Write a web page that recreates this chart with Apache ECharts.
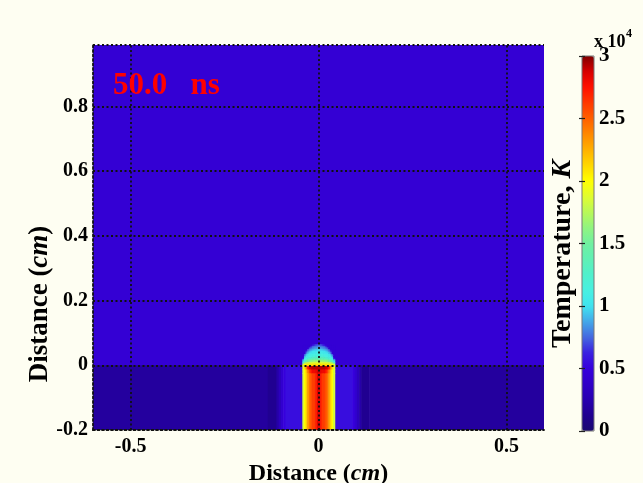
<!DOCTYPE html>
<html><head><meta charset="utf-8">
<script src="https://cdn.jsdelivr.net/npm/echarts@6/dist/echarts.min.js"></script>
<style>html,body{margin:0;padding:0;background:#fefef2;}#c{width:643px;height:483px;}</style>
</head><body><div id="c"></div>
<script>
// ---- tick labels ----
const xTicks = [-0.5, 0, 0.5];
const yTicks = [-0.2, 0, 0.2, 0.4, 0.6, 0.8];
const cbTicks = [0, 0.5, 1, 1.5, 2, 2.5, 3];
const timeLabel = '50.0   ns';

// ---- temperature field (units of 1e4 K), rows listed top -> bottom ----
const airX = [-0.6, 0.6];
const airY = [0, 0.99];
const airVals = [[0.45]];

const subX = [-0.6, -0.135, -0.112, -0.106, -0.1, -0.094, -0.088, -0.043, 0.043, 0.09, 0.096, 0.102, 0.108, 0.114, 0.135, 0.6];
const subY = [-0.2, 0];
const subVals = [[0.18, 0.13, 0.22, 0.32, 0.42, 0.5, 0.55, 0.55, 0.55, 0.5, 0.42, 0.32, 0.22, 0.13, 0.18]];

const colX = [-0.043, -0.0387, -0.0344, -0.0301, -0.0258, -0.0215, -0.0172, -0.0129, -0.0086, -0.0043, 0,
              0.0043, 0.0086, 0.0129, 0.0172, 0.0215, 0.0258, 0.0301, 0.0344, 0.0387, 0.043];
const colY = [-0.2, -0.025, -0.013, 0];
const colVals = [
  [1.9, 2.1, 2.4, 2.7, 2.85, 2.9, 2.92, 2.92, 2.92, 2.92, 2.92, 2.92, 2.92, 2.92, 2.9, 2.85, 2.7, 2.4, 2.1, 1.9],
  [1.85, 2.0, 2.2, 2.4, 2.6, 2.75, 2.8, 2.8, 2.82, 2.88, 2.88, 2.82, 2.8, 2.8, 2.75, 2.6, 2.4, 2.2, 2.0, 1.85],
  [1.85, 2.0, 2.15, 2.3, 2.45, 2.55, 2.6, 2.62, 2.7, 2.85, 2.85, 2.7, 2.62, 2.6, 2.55, 2.45, 2.3, 2.15, 2.0, 1.85]
];

const domeX = colX;
const domeY = [0, 0.005, 0.01, 0.015, 0.02, 0.025, 0.03, 0.035, 0.04, 0.045, 0.05, 0.055, 0.06, 0.065];
const domeVals = [
  [0.45, 0.45, 0.45, 0.45, 0.45, 0.45, 0.55, 0.64, 0.70, 0.72, 0.72, 0.70, 0.64, 0.55, 0.45, 0.45, 0.45, 0.45, 0.45, 0.45],
  [0.45, 0.45, 0.45, 0.45, 0.45, 0.65, 0.74, 0.77, 0.79, 0.80, 0.80, 0.79, 0.77, 0.74, 0.65, 0.45, 0.45, 0.45, 0.45, 0.45],
  [0.45, 0.45, 0.45, 0.45, 0.71, 0.78, 0.82, 0.85, 0.87, 0.88, 0.88, 0.87, 0.85, 0.82, 0.78, 0.71, 0.45, 0.45, 0.45, 0.45],
  [0.45, 0.45, 0.45, 0.72, 0.81, 0.87, 0.91, 0.94, 0.96, 0.97, 0.97, 0.96, 0.94, 0.91, 0.87, 0.81, 0.72, 0.45, 0.45, 0.45],
  [0.45, 0.45, 0.66, 0.82, 0.91, 0.97, 1.00, 1.01, 1.03, 1.03, 1.03, 1.03, 1.01, 1.00, 0.97, 0.91, 0.82, 0.66, 0.45, 0.45],
  [0.45, 0.45, 0.81, 0.94, 1.00, 1.03, 1.05, 1.07, 1.08, 1.08, 1.08, 1.08, 1.07, 1.05, 1.03, 1.00, 0.94, 0.81, 0.45, 0.45],
  [0.45, 0.73, 0.94, 1.03, 1.07, 1.09, 1.11, 1.12, 1.13, 1.13, 1.13, 1.13, 1.12, 1.11, 1.09, 1.07, 1.03, 0.94, 0.73, 0.45],
  [0.45, 0.88, 1.04, 1.09, 1.13, 1.15, 1.17, 1.19, 1.20, 1.20, 1.20, 1.20, 1.19, 1.17, 1.15, 1.13, 1.09, 1.04, 0.88, 0.45],
  [0.50, 1.03, 1.12, 1.17, 1.22, 1.27, 1.31, 1.33, 1.35, 1.35, 1.35, 1.35, 1.33, 1.31, 1.27, 1.22, 1.17, 1.12, 1.03, 0.50],
  [0.82, 1.12, 1.23, 1.34, 1.40, 1.44, 1.46, 1.48, 1.50, 1.50, 1.50, 1.50, 1.48, 1.46, 1.44, 1.40, 1.34, 1.23, 1.12, 0.82],
  [1.05, 1.31, 1.46, 1.54, 1.60, 1.64, 1.67, 1.68, 1.70, 1.70, 1.70, 1.70, 1.68, 1.67, 1.64, 1.60, 1.54, 1.46, 1.31, 1.05],
  [1.31, 1.63, 1.74, 1.80, 1.83, 1.85, 1.86, 1.87, 1.88, 1.88, 1.88, 1.88, 1.87, 1.86, 1.85, 1.83, 1.80, 1.74, 1.63, 1.31],
  [1.86, 2.00, 2.04, 2.06, 2.08, 2.09, 2.09, 2.10, 2.10, 2.10, 2.10, 2.10, 2.10, 2.09, 2.09, 2.08, 2.06, 2.04, 2.00, 1.86]
];

const cmapColors = ['#1a0870','#200090','#2800b0','#3000c8','#3600dc','#3a20e0','#4468e0','#44a8e8',
  '#40e4f0','#48f0e0','#50f0cc','#60f0b4','#70f0a0','#90f480','#b8f858','#e0fc30','#ffff00',
  '#ffd800','#ffb000','#ff8800','#ff6000','#ff3800','#ff1000','#d80000','#800000'];

function patch(xe, ye, vals) {
  const out = [];
  const nr = ye.length - 1;
  for (let r = 0; r < nr; r++) {
    const y1 = ye[nr - r], y0 = ye[nr - r - 1];
    for (let c = 0; c < xe.length - 1; c++) out.push([xe[c], xe[c + 1], y0, y1, vals[r][c]]);
  }
  return out;
}
const cells = [].concat(patch(airX, airY, airVals), patch(subX, subY, subVals),
  patch(colX, colY, colVals), patch(domeX, domeY, domeVals));

const SERIF = 'Liberation Serif';
const dotted = { color: '#111', type: [2, 2.5], width: 1.8 };
function tickFmt(list) {
  return v => { const m = list.find(t => Math.abs(t - v) < 1e-6); return m === undefined ? '' : String(m); };
}
function labelRich(size) {
  return {
    b: { fontFamily: SERIF, fontWeight: 'bold', fontSize: size, color: '#000', fill: '#000' },
    i: { fontFamily: SERIF, fontWeight: 'bold', fontStyle: 'italic', fontSize: size, color: '#000', fill: '#000' }
  };
}

const chart = echarts.init(document.getElementById('c'), null, { renderer: 'canvas' });
chart.setOption({
  backgroundColor: '#fefef2',
  animation: false,
  title: { text: timeLabel, left: 113, top: 70, padding: 0,
    textStyle: { color: '#ff0000', fontFamily: SERIF, fontWeight: 'bold', fontSize: 31 } },
  grid: [
    { left: 93, top: 45, width: 451, height: 385, show: false, outerBoundsMode: 'none', containLabel: false },
    { left: 582, top: 56, width: 12, height: 375, show: true, borderColor: '#777', borderWidth: 1,
      backgroundColor: 'transparent', z: 10, outerBoundsMode: 'none', containLabel: false }
  ],
  xAxis: [
    { gridIndex: 0, type: 'value', min: -0.6, max: 0.6, interval: 0.1, z: 6,
      axisLine: { show: true, onZero: false, lineStyle: dotted },
      axisTick: { show: false }, splitLine: { show: false },
      axisLabel: { formatter: tickFmt(xTicks), color: '#000', fontFamily: SERIF, fontWeight: 'bold', fontSize: 20, margin: 7 },
      name: '{b|Distance (}{i|cm}{b|)}', nameLocation: 'middle', nameGap: 30,
      nameTextStyle: { rich: labelRich(24) } },
    { gridIndex: 1, type: 'value', show: false, min: 0, max: 1 }
  ],
  yAxis: [
    { gridIndex: 0, type: 'value', min: -0.2, max: 0.99, interval: 0.2, z: 6,
      axisLine: { show: true, onZero: false, lineStyle: dotted },
      axisTick: { show: false },
      splitLine: { show: true, lineStyle: dotted },
      axisLabel: { formatter: tickFmt(yTicks), color: '#000', fontFamily: SERIF, fontWeight: 'bold', fontSize: 20, margin: 5 } },
    { gridIndex: 1, type: 'value', position: 'right', min: 0, max: 3, interval: 0.5, z: 10,
      axisLine: { show: false }, splitLine: { show: false },
      axisTick: { show: true, inside: true, length: 3, lineStyle: { color: '#222', width: 1.2 } },
      axisLabel: { formatter: tickFmt(cbTicks), color: '#000', fontFamily: SERIF, fontWeight: 'bold', fontSize: 21, margin: 5 } },
    { gridIndex: 1, type: 'value', position: 'left', min: 0, max: 3, interval: 0.5, z: 10,
      axisLine: { show: false }, splitLine: { show: false },
      axisTick: { show: true, inside: true, length: 3, lineStyle: { color: '#222', width: 1.2 } },
      axisLabel: { show: false } }
  ],
  visualMap: {
    type: 'continuous', seriesIndex: 0, dimension: 4, min: 0, max: 3,
    inRange: { color: cmapColors },
    orient: 'vertical', left: 582, top: 56, itemWidth: 12, itemHeight: 375,
    calculable: false, hoverLink: false, padding: 0, z: 4
  },
  graphic: [
    { type: 'text', x: 594, y: 33, z: 20, style: { text: 'x 10', font: 'bold 18px "Liberation Serif"', fill: '#000' } },
    { type: 'text', x: 626, y: 28, z: 20, style: { text: '4', font: 'bold 12px "Liberation Serif"', fill: '#000' } },
    { type: 'text', x: 40, y: 304, rotation: Math.PI / 2, z: 20,
      style: { text: '{b|Distance (}{i|cm}{b|)}', align: 'center', verticalAlign: 'middle',
        textAlign: 'center', textVerticalAlign: 'middle', rich: labelRich(27) } },
    { type: 'text', x: 563, y: 254, rotation: Math.PI / 2, z: 20,
      style: { text: '{b|Temperature, }{i|K}', align: 'center', verticalAlign: 'middle',
        textAlign: 'center', textVerticalAlign: 'middle', rich: labelRich(28) } }
  ],
  series: [
    { type: 'custom', coordinateSystem: 'cartesian2d', xAxisIndex: 0, yAxisIndex: 0, z: 1, clip: true, silent: true,
      dimensions: ['x0', 'x1', 'y0', 'y1', 'T'],
      encode: { x: [0, 1], y: [2, 3] },
      data: cells,
      renderItem: function (params, api) {
        const p0 = api.coord([api.value(0), api.value(3)]);
        const p1 = api.coord([api.value(1), api.value(2)]);
        return { type: 'rect',
          shape: { x: p0[0], y: p0[1], width: p1[0] - p0[0] + 0.6, height: p1[1] - p0[1] + 0.6 },
          style: { fill: api.visual('color') } };
      } },
    { type: 'line', xAxisIndex: 0, yAxisIndex: 0, z: 5, silent: true, showSymbol: false,
      data: [[0, 0]], lineStyle: { opacity: 0 },
      markLine: { silent: true, symbol: ['none', 'none'], label: { show: false }, z: 5,
        lineStyle: dotted, data: xTicks.map(v => ({ xAxis: v })) } }
  ]
});
</script></body></html>
